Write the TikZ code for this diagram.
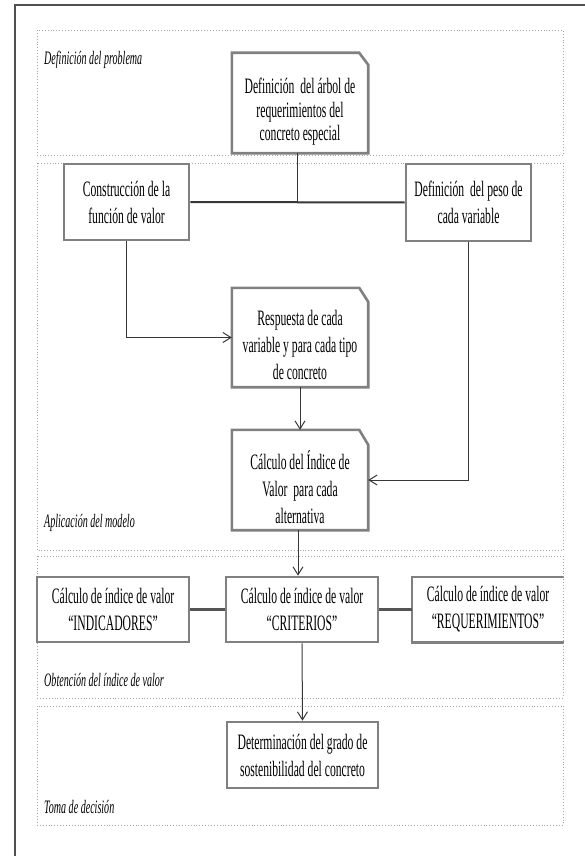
\documentclass[tikz,border=0pt]{standalone}
\usepackage{fontspec}
\setmainfont{Liberation Serif}[FakeStretch=0.53]
\usetikzlibrary{arrows.meta}
\definecolor{boxgray}{RGB}{128,128,128}
\definecolor{linegray}{RGB}{55,55,55}
\definecolor{midgray}{RGB}{85,85,85}
\definecolor{dotgray}{RGB}{165,165,165}
\definecolor{framegray}{RGB}{80,80,80}
\begin{document}
\begin{tikzpicture}[x=1pt,y=-1pt,
  region/.style={draw=dotgray, line width=0.9pt, dotted},
  frameline/.style={draw=framegray, line width=1.2pt},
  lbl/.style={font=\fontsize{19}{22}\selectfont\itshape, inner sep=0pt, anchor=west},
  plainbox/.style={draw=boxgray, line width=2.6pt, fill=white, align=center, inner sep=0pt,
    font=\fontsize{22}{27}\selectfont},
  openbox/.style={draw=none, fill=white, inner sep=0pt},
  boxline/.style={draw=boxgray, line width=2.6pt, line join=miter},
  txt/.style={align=center, inner sep=0pt, font=\fontsize{22}{27}\selectfont},
  thinline/.style={draw=linegray, line width=1pt},
  joinline/.style={draw=linegray, line width=2pt},
  sideline/.style={draw=midgray, line width=2.6pt},
  arr/.style={-{Straight Barb[length=8pt,width=10pt,line width=1pt]}}
]
\useasboundingbox (0,0) rectangle (585,856);
% outer frame
\draw[frameline] (15,870) -- (15,5) -- (600,5);
% regions
\draw[region] (37,30) rectangle (563,155);
\draw[region] (37,163) rectangle (563,550);
\draw[region] (37,556) rectangle (563,698);
\draw[region] (37,706) rectangle (563,825);
% region labels
\node[lbl] (L1) at (44,60) {Definición del problema};
\node[lbl] (L2) at (44,523) {Aplicación del modelo};
\node[lbl] (L3) at (44,680) {Obtención del índice de valor};
\node[lbl] (L4) at (44,807) {Toma de decisión};

% snipped boxes
\node[openbox, minimum width=136pt, minimum height=100pt] (A) at (300,103) {};
\draw[boxline, fill=white] (A.north west) -- ([xshift=-9pt]A.north east) -- ([yshift=-12pt]A.north east)
  -- (A.south east) -- (A.south west) -- cycle;
\node[txt, font=\fontsize{22}{23.5}\selectfont] (At) at ([yshift=-9pt]A.center)
  {Definición \ del árbol de\\requerimientos del\\concreto especial};

\node[openbox, minimum width=136pt, minimum height=99pt] (D) at (300,337.5) {};
\draw[boxline, fill=white] (D.north west) -- ([xshift=-9pt]D.north east) -- ([yshift=-14pt]D.north east)
  -- (D.south east) -- (D.south west) -- cycle;
\node[txt] (Dt) at ([yshift=-7pt]D.center)
  {Respuesta de cada\\variable y para cada tipo\\de concreto};

\node[openbox, minimum width=136pt, minimum height=100pt] (E) at (300,480) {};
\draw[boxline, fill=white] (E.north west) -- ([xshift=-9pt]E.north east) -- ([yshift=-15pt]E.north east)
  -- (E.south east) -- (E.south west) -- cycle;
\node[txt] (Et) at ([yshift=-7pt]E.center)
  {Cálculo del Índice de\\Valor \ para cada\\alternativa};

% plain boxes
\node[plainbox, minimum width=125pt, minimum height=76pt] (B) at (126.5,202) {Construcción de la\\función de valor};
\node[plainbox, minimum width=125pt, minimum height=77pt] (C) at (468.5,202.5) {Definición \ del peso de\\cada variable};
\node[plainbox, minimum width=152pt, minimum height=65pt] (G) at (113,609.5) {Cálculo de índice de valor\\“INDICADORES”};
\node[plainbox, minimum width=152pt, minimum height=65pt] (F) at (302,609.5) {Cálculo de índice de valor\\“CRITERIOS”};
\node[openbox, minimum width=152pt, minimum height=65pt, align=center,
  font=\fontsize{22}{27}\selectfont] (H) at (488,609.5) {Cálculo de índice de valor\\“REQUERIMIENTOS”};
\draw[boxline] (H.north east) -- (H.north west) -- (H.south west) -- (H.south east);
\node[plainbox, minimum width=151pt, minimum height=66pt] (I) at (302.5,755) {Determinación del grado de\\sostenibilidad del concreto};

% connectors
\draw[joinline] (B.east) -- (C.west);
\draw[thinline] ([xshift=-3pt]A.south) -- ([xshift=-3pt]A.south |- B.east);
\draw[thinline, arr] (B.south) |- (D.west);
\draw[thinline, arr] (C.south) |- (E.east);
\draw[thinline, arr] (D.south) -- (E.north);
\draw[thinline, arr] ([xshift=-2pt]E.south) -- ([xshift=-2pt]E.south |- F.north);
\draw[thinline, arr] (F.south) -- (I.north);
\draw[sideline] (G.east) -- (F.west);
\draw[sideline] (F.east) -- (H.west);
% region right border over the open box
\draw[region] (563,556) -- (563,698);
\end{tikzpicture}
\end{document}
